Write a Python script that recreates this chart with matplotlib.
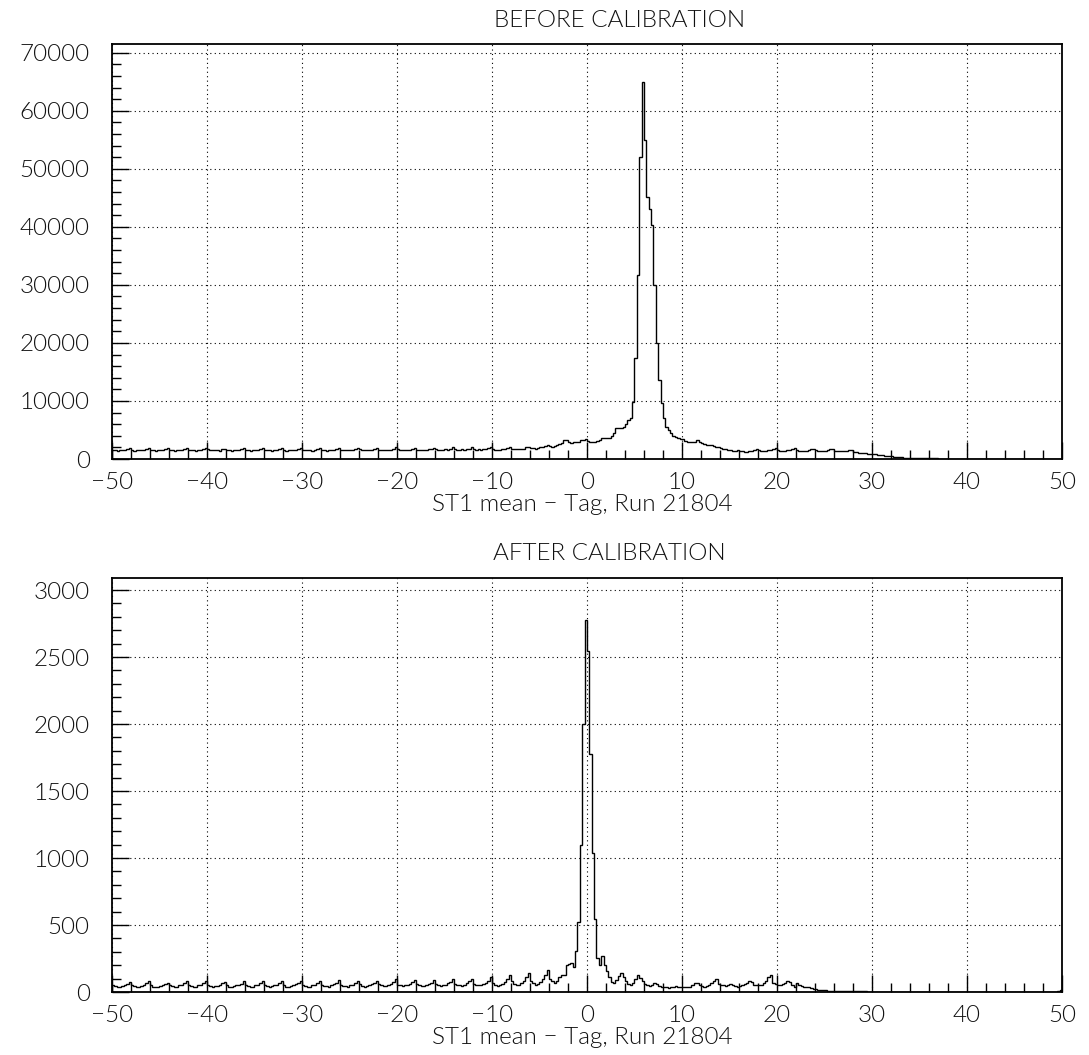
import numpy as np
import matplotlib.pyplot as plt
from matplotlib.ticker import MultipleLocator

plt.rcParams['font.family'] = ['Lato', 'DejaVu Sans']

# Binning: 400 bins of 0.25 from -50 to 50
x_lo, x_hi, bin_w = -50, 50, 0.25
edges = np.arange(x_lo, x_hi + bin_w / 2, bin_w)

# Counts per bin before calibration (rows of 4 units)
before = [
    1550, 1500, 1450, 1500, 1600, 1550, 1700, 1850, 1600, 1450, 1500, 1550, 1500, 1500, 1750, 1850,
    1550, 1500, 1450, 1600, 1550, 1500, 1650, 1900, 1600, 1500, 1450, 1550, 1500, 1550, 1700, 1850,
    1500, 1550, 1500, 1450, 1600, 1550, 1700, 1950, 1650, 1500, 1500, 1550, 1500, 1450, 1750, 1800,
    1600, 1500, 1450, 1550, 1550, 1500, 1700, 1850, 1550, 1500, 1450, 1600, 1500, 1550, 1650, 1900,
    1500, 1550, 1500, 1450, 1550, 1600, 1750, 1850, 1600, 1450, 1500, 1550, 1600, 1500, 1700, 1900,
    1550, 1500, 1500, 1550, 1450, 1550, 1700, 1850, 1600, 1550, 1450, 1500, 1550, 1600, 1750, 1900,
    1550, 1500, 1550, 1500, 1600, 1550, 1700, 1950, 1650, 1500, 1550, 1500, 1550, 1600, 1750, 1900,
    1600, 1550, 1500, 1550, 1600, 1550, 1800, 2000, 1650, 1550, 1500, 1600, 1550, 1600, 1750, 1950,
    1600, 1550, 1600, 1550, 1600, 1650, 1800, 1950, 1650, 1600, 1550, 1600, 1650, 1600, 1800, 2000,
    1650, 1600, 1550, 1650, 1600, 1650, 1800, 2000, 1700, 1600, 1650, 1600, 1650, 1700, 1850, 2050,
    1700, 1600, 1550, 1600, 1650, 1700, 1850, 2050, 1750, 1700, 1650, 1700, 1750, 1800, 2000, 2100,
    1900, 1850, 1800, 1900, 2000, 2100, 2300, 2450, 2200, 2150, 2200, 2400, 2600, 2800, 3200, 3350,
    2900, 2800, 2850, 2900, 3000, 3200, 3350, 3450, 3100, 3000, 2950, 3000, 3100, 3300, 3550, 3700,
    3650, 3600, 3900, 4400, 5300, 5300, 5300, 5500, 6000, 6700, 7000, 9900, 17400, 31700, 52100, 65000,
    55000, 45200, 43000, 40300, 30000, 20000, 13600, 9600, 7000, 5600, 5000, 4400, 4000, 3800, 3600, 3500,
    3400, 3100, 3000, 2950, 2900, 3000, 3200, 2900, 2700, 2600, 2500, 2400, 2350, 2250, 2100, 2000,
    1850, 1750, 1650, 1600, 1500, 1450, 1400, 1500, 1350, 1300, 1250, 1250, 1300, 1350, 1500, 1650,
    1500, 1450, 1400, 1450, 1500, 1550, 1700, 1850, 1550, 1450, 1400, 1450, 1500, 1550, 1700, 1850,
    1550, 1450, 1400, 1450, 1450, 1500, 1650, 1800, 1500, 1400, 1400, 1350, 1450, 1500, 1650, 1800,
    1450, 1350, 1300, 1300, 1350, 1400, 1500, 1600, 1250, 1200, 1100, 1050, 1000, 1000, 950, 900,
    850, 800, 750, 700, 650, 600, 550, 500, 450, 400, 350, 300, 280, 250, 220, 200,
    180, 160, 150, 140, 130, 120, 120, 110, 110, 100, 100, 100, 90, 90, 90, 80,
    80, 80, 80, 70, 70, 70, 60, 70, 60, 60, 60, 50, 60, 50, 50, 50,
    50, 50, 40, 50, 40, 40, 40, 40, 40, 40, 30, 40, 30, 30, 40, 30,
    30, 30, 30, 30, 30, 30, 20, 30, 30, 20, 30, 20, 20, 30, 20, 30,
]

# Counts per bin after calibration
after = [
    55, 45, 40, 35, 45, 50, 60, 75, 55, 45, 35, 40, 45, 55, 65, 80,
    50, 40, 40, 35, 45, 55, 60, 70, 55, 45, 40, 40, 50, 55, 70, 80,
    55, 45, 35, 40, 50, 50, 65, 80, 50, 45, 40, 45, 45, 55, 65, 75,
    50, 40, 40, 45, 50, 55, 60, 80, 55, 45, 40, 40, 50, 55, 65, 85,
    55, 45, 40, 45, 50, 50, 65, 80, 55, 40, 40, 45, 50, 60, 70, 85,
    55, 45, 40, 40, 50, 55, 65, 80, 55, 45, 45, 40, 50, 60, 70, 90,
    55, 45, 45, 40, 50, 55, 70, 85, 60, 45, 40, 45, 55, 60, 70, 85,
    60, 50, 45, 45, 55, 60, 75, 95, 55, 50, 45, 50, 55, 60, 75, 90,
    60, 50, 45, 45, 55, 60, 70, 90, 60, 50, 45, 50, 55, 65, 75, 95,
    60, 50, 50, 45, 55, 65, 80, 95, 60, 55, 50, 50, 60, 70, 85, 110,
    70, 55, 45, 50, 60, 75, 95, 125, 80, 60, 50, 55, 70, 85, 110, 140,
    85, 65, 55, 60, 75, 95, 130, 165, 100, 80, 70, 85, 110, 130, 125, 205,
    210, 215, 190, 306, 520, 1097, 1997, 2780, 2546, 1773, 1040, 545, 251, 200, 270, 205,
    160, 110, 75, 70, 90, 120, 140, 110, 80, 60, 55, 70, 95, 125, 105, 80,
    60, 50, 45, 55, 65, 60, 45, 40, 35, 35, 30, 35, 40, 45, 40, 35,
    35, 40, 35, 40, 50, 65, 70, 55, 45, 40, 45, 55, 70, 85, 100, 60,
    55, 50, 45, 55, 60, 55, 45, 40, 45, 50, 60, 70, 80, 75, 55, 50,
    50, 55, 65, 80, 110, 125, 70, 60, 55, 50, 60, 70, 80, 75, 55, 40,
    70, 55, 45, 40, 38, 36, 30, 25, 20, 15, 15, 12, 12, 10, 10, 8,
    7, 7, 6, 6, 6, 5, 5, 5, 5, 4, 4, 4, 4, 4, 3, 3,
    3, 3, 3, 3, 3, 3, 2, 3, 2, 2, 2, 3, 2, 2, 2, 2,
    2, 2, 2, 2, 2, 1, 2, 2, 1, 2, 1, 1, 2, 1, 1, 1,
    1, 1, 1, 1, 1, 1, 1, 1, 1, 1, 1, 1, 1, 1, 1, 1,
    1, 1, 1, 1, 1, 1, 1, 1, 1, 0, 1, 1, 1, 0, 1, 1,
    1, 0, 1, 1, 0, 1, 1, 0, 1, 1, 1, 0, 1, 1, 5, 15,
]

titles = ["BEFORE CALIBRATION", "AFTER CALIBRATION"]
xlabel = "ST1 mean \u2212 Tag, Run 21804"
y_tops = [71500, 3090]
y_major = [10000, 500]
y_minor = [2000, 100]

text_kw = dict(fontsize=17.5, fontweight=300, color='#111111')

fig = plt.figure(figsize=(10.89, 10.55), dpi=100)
ax_top = fig.add_axes([0.1028, 0.5649, 0.8724, 0.3934])
ax_bot = fig.add_axes([0.1028, 0.0597, 0.8724, 0.3924])

for ax, counts, ytop, ymaj, ymin in zip([ax_top, ax_bot], [before, after],
                                       y_tops, y_major, y_minor):
    ax.stairs(counts, edges, color='black', lw=1.0)
    ax.set_xlim(x_lo, x_hi)
    ax.set_ylim(0, ytop)
    ax.xaxis.set_major_locator(MultipleLocator(10))
    ax.xaxis.set_minor_locator(MultipleLocator(2))
    ax.yaxis.set_major_locator(MultipleLocator(ymaj))
    ax.yaxis.set_minor_locator(MultipleLocator(ymin))
    ax.tick_params(which='both', direction='in', top=False, right=False,
                   color='black', width=1.0)
    ax.tick_params(which='major', length=12.5)
    ax.tick_params(which='minor', length=6.5)
    ax.tick_params(axis='y', pad=16)
    ax.tick_params(axis='x', pad=9)
    ax.grid(which='major', color='black', lw=0.8, linestyle=(0, (1, 3)))
    for spine in ax.spines.values():
        spine.set_linewidth(1.3)
    for lab in ax.get_xticklabels() + ax.get_yticklabels():
        lab.set_fontsize(17.5)
        lab.set_fontweight(300)
        lab.set_color('#111111')

# Titles and x-axis captions
fig.text(0.4536, 0.981, titles[0], ha='left', va='center', **text_kw)
fig.text(0.4527, 0.4758, titles[1], ha='left', va='center', **text_kw)
fig.text(0.535, 0.5215, xlabel, ha='center', va='center', **text_kw)
fig.text(0.535, 0.0165, xlabel, ha='center', va='center', **text_kw)

fig.savefig("out.png", dpi=100)
